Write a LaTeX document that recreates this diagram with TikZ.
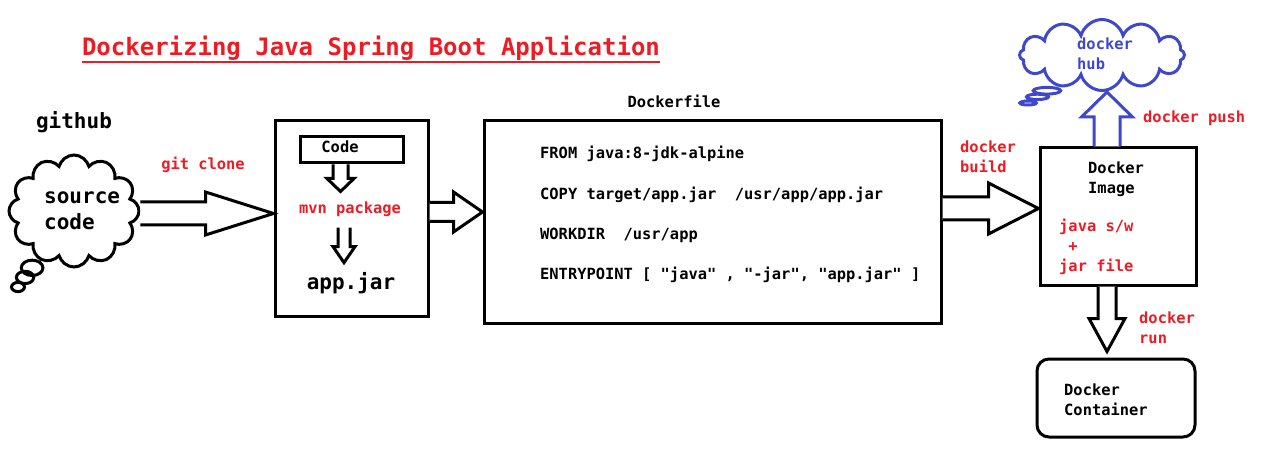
\documentclass[tikz,border=0pt]{standalone}
\usepackage{fontspec}
\setmonofont{DejaVu Sans Mono}
\usetikzlibrary{calc, shapes.symbols, shapes.callouts}
\definecolor{paintred}{RGB}{237,28,36}
\definecolor{paintblue}{RGB}{63,72,204}

% block arrows: [options]{start}{tip}{shaft half}{head half}{head base offset}
\newcommand{\hblock}[6][]{%
  \draw[fat,#1] ($(#2)+(0,-#4)$) -- ($(#3)+(#6,-#4)$) -- ($(#3)+(#6,-#5)$) -- (#3)
    -- ($(#3)+(#6,#5)$) -- ($(#3)+(#6,#4)$) -- ($(#2)+(0,#4)$);}
\newcommand{\vblock}[6][]{%
  \draw[fat,#1] ($(#2)+(-#4,0)$) -- ($(#3)+(-#4,#6)$) -- ($(#3)+(-#5,#6)$) -- (#3)
    -- ($(#3)+(#5,#6)$) -- ($(#3)+(#4,#6)$) -- ($(#2)+(#4,0)$);}

\tikzset{
  lbl/.style={font=\ttfamily\bfseries\fontsize{15.4}{20}\selectfont, inner sep=0pt, align=left},
  big/.style={font=\ttfamily\bfseries\fontsize{21}{26}\selectfont, inner sep=0pt, align=left},
  redlbl/.style={lbl, text=paintred},
  box/.style={draw, line width=3pt, inner sep=0pt},
  fat/.style={draw, line width=3pt, line join=miter, fill=white},
  thought/.style={cloud callout, draw, line width=3pt, cloud puffs=12, aspect=1.3,
    inner sep=0pt, callout pointer segments=3},
}

\begin{document}
\begin{tikzpicture}[x=1pt,y=-1pt]
    \useasboundingbox (0,0) rectangle (1280,457);

    % title
    \node[redlbl, font=\ttfamily\bfseries\fontsize{24}{28}\selectfont] (title) at (371,48) {Dockerizing Java Spring Boot Application};
    \draw[paintred, line width=2.5pt] ($(title.south west)+(0,1.5)$) -- ($(title.south east)+(0,1.5)$);

    % source on github
    \node[big] (github) at (74,122) {github};
    \node[thought, minimum width=130, minimum height=112, callout absolute pointer={(18,287)}] (src) at (74,211) {};
    \node[big, anchor=west] (srctext) at (44,211) {source\\code};

    % maven build
    \node[box, minimum width=153, minimum height=195] (box1) at (351.5,218.5) {};
    \node[box, minimum width=103, minimum height=26] (codebox) at (351.5,150) {};
    \node[lbl] (code) at (340,147) {Code};
    \node[redlbl] (mvn) at (350,209) {mvn package};
    \node[big] (jar) at (351,283) {app.jar};

    % dockerfile
    \node[lbl] (dflabel) at (674,101) {Dockerfile};
    \node[box, minimum width=457, minimum height=202] (df) at (712.5,222) {};
    \node[lbl, anchor=west] (from) at (540,154) {FROM java:8-jdk-alpine};
    \node[lbl, anchor=west] (copy) at (540,195) {COPY target/app.jar~~/usr/app/app.jar};
    \node[lbl, anchor=west] (workdir) at (540,235) {WORKDIR~~/usr/app};
    \node[lbl, anchor=west] (entry) at (540,275) {ENTRYPOINT [ "java" , "-jar", "app.jar" ]};

    % docker image
    \node[box, minimum width=156, minimum height=137] (img) at (1118,216.5) {};
    \node[lbl, anchor=west] (imgtext) at (1088,179) {Docker\\Image};
    \node[redlbl, anchor=west] (imgcontent) at (1059,247) {java s/w\\~+\\jar file};

    % docker hub
    \node[thought, draw=paintblue, minimum width=165, minimum height=71, callout absolute pointer={(1028,103)}] (hub) at (1102,55) {};
    \node[lbl, text=paintblue, anchor=west] (hubtext) at (1077,54) {docker\\hub};

    % container
    \node[box, rounded corners=12pt, minimum width=158, minimum height=78] (cont) at (1116,398) {};
    \node[lbl, anchor=west] (conttext) at (1064,400) {Docker\\Container};

    % commands
    \node[redlbl] (gitclone) at (203,165) {git clone};
    \node[redlbl, anchor=west] (build) at (960,157) {docker\\build};
    \node[redlbl, anchor=west] (push) at (1143,118) {docker push};
    \node[redlbl, anchor=west] (run) at (1139,328) {docker\\run};

    % arrows
    \coordinate (gA) at ($(src.east)+(0,2.5)$);
    \coordinate (gB) at (box1.west |- gA);
    \hblock{gA}{gB}{11.5}{21.5}{-68}

    \coordinate (cA) at ($(codebox.south)+(-11,0)$);
    \coordinate (cB) at ($(cA)+(0,27)$);
    \vblock{cA}{cB}{7.5}{13.5}{-13}

    \coordinate (mA) at ($(mvn.south)+(-6,11)$);
    \coordinate (mB) at ($(mA)+(0,35)$);
    \vblock{mA}{mB}{6}{11}{-16}

    \coordinate (dA) at ($(box1.east)+(0,-6.5)$);
    \coordinate (dB) at (df.west |- dA);
    \hblock{dA}{dB}{9.5}{20}{-29}

    \coordinate (bA) at ($(df.east)+(0,-13.5)$);
    \coordinate (bB) at (img.west |- bA);
    \hblock{bA}{bB}{11.5}{25.5}{-50}

    \coordinate (pA) at ($(img.north)+(-11,0)$);
    \coordinate (pB) at (pA |- hub.south);
    \vblock[draw=paintblue]{pA}{pB}{13}{25.5}{25}

    \coordinate (rA) at ($(img.south)+(-11,0)$);
    \coordinate (rB) at ($(rA |- cont.north)+(0,-6)$);
    \vblock{rA}{rB}{9}{18}{-33}

\end{tikzpicture}
\end{document}
